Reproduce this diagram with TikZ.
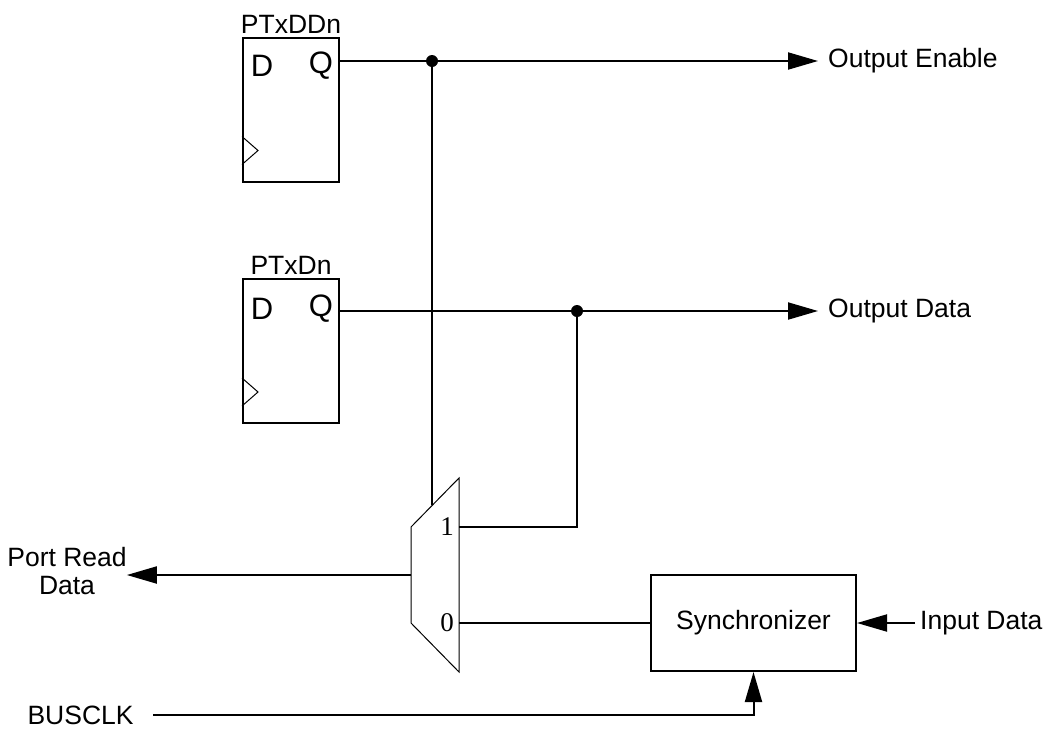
\documentclass[tikz,border=0pt]{standalone}
\usepackage{fontspec}
\setmainfont{Liberation Sans}
\newfontfamily\muxfont{Liberation Serif}
\usepackage{tikz}
\usetikzlibrary{arrows.meta, positioning, calc}

\begin{document}
\begin{tikzpicture}[x=1pt, y=-1pt, font=\fontsize{26.5}{28}\selectfont,
    wire/.style={line width=2pt},
    sig/.style={wire, -{Triangle[length=30pt, width=17pt]}},
    ffbox/.style={draw, line width=2pt, minimum width=96pt, minimum height=144pt, inner sep=0pt},
    pin/.style={font=\fontsize{31}{33}\selectfont, inner sep=0pt},
    sel/.style={font=\muxfont\fontsize{27}{29}\selectfont, inner sep=0pt}]
    \useasboundingbox (0,0) rectangle (1046,729);

    % Flip-flops
    \node[ffbox, label={[inner sep=3pt]above:PTxDDn}] (ffdd) at (291,109.5) {};
    \node[ffbox, label={[inner sep=3pt]above:PTxDn}] (ffd) at (291,351) {};
    \node[pin] (ffddD) at (262,66) {D};
    \node[pin] (ffddQ) at (321,66) {Q};
    \node[pin] (ffdD) at (262,309) {D};
    \node[pin] (ffdQ) at (321,309) {Q};
    \foreach \f in {ffdd, ffd}
        \draw[line width=1pt] ($(\f.south west)+(0,-18)$) -- ++(16,-14) -- ++(-16,-14);

    % Mux
    \coordinate (muxtr) at (459,478);
    \coordinate (muxtl) at (411,527);
    \coordinate (muxbl) at (411,623);
    \coordinate (muxbr) at (459,672);
    \draw[line width=1pt] (muxtr) -- (muxtl) -- (muxbl) -- (muxbr) -- cycle;
    \coordinate (muxsel) at (432,505);
    \coordinate (muxin1) at (459,527);
    \coordinate (muxin0) at (459,623);
    \coordinate (muxout) at (411,575);
    \node[sel, anchor=east] (one) at (454,527) {1};
    \node[sel, anchor=east] (zero) at (454,623) {0};

    % Synchronizer
    \node[draw, line width=2pt, minimum width=205pt, minimum height=96pt] (sync) at (753.5,623) {Synchronizer};

    % Labels
    \node[anchor=west, inner xsep=10pt] (oe) at (818,61) {Output Enable};
    \node[anchor=west, inner xsep=10pt] (od) at (818,311) {Output Data};
    \node[align=center, inner xsep=0pt] (prd) at (67,571) {Port Read\\Data};
    \node[anchor=west, inner xsep=5pt] (ind) at (915,623) {Input Data};
    \node[anchor=west, inner ysep=0pt] (clk) at (24,715) {BUSCLK};

    % Wires
    \coordinate (jnoe) at (432,61);
    \coordinate (jnod) at (577,311);
    \draw[sig] (ffdd.east |- jnoe) -- (oe.west);
    \draw[sig] (ffd.east |- jnod) -- (od.west);
    \draw[wire] (jnoe) -- (muxsel);
    \draw[wire] (jnod) |- (muxin1);
    \draw[wire] (muxin0) -- (sync.west);
    \draw[sig] (muxout) -- (prd.east |- muxout);
    \draw[sig] (ind.west) -- (sync.east);
    \draw[sig, shorten <=16pt] (clk.east) -| (sync.south);
    \fill (jnoe) circle[radius=6pt];
    \fill (jnod) circle[radius=6pt];
\end{tikzpicture}
\end{document}
